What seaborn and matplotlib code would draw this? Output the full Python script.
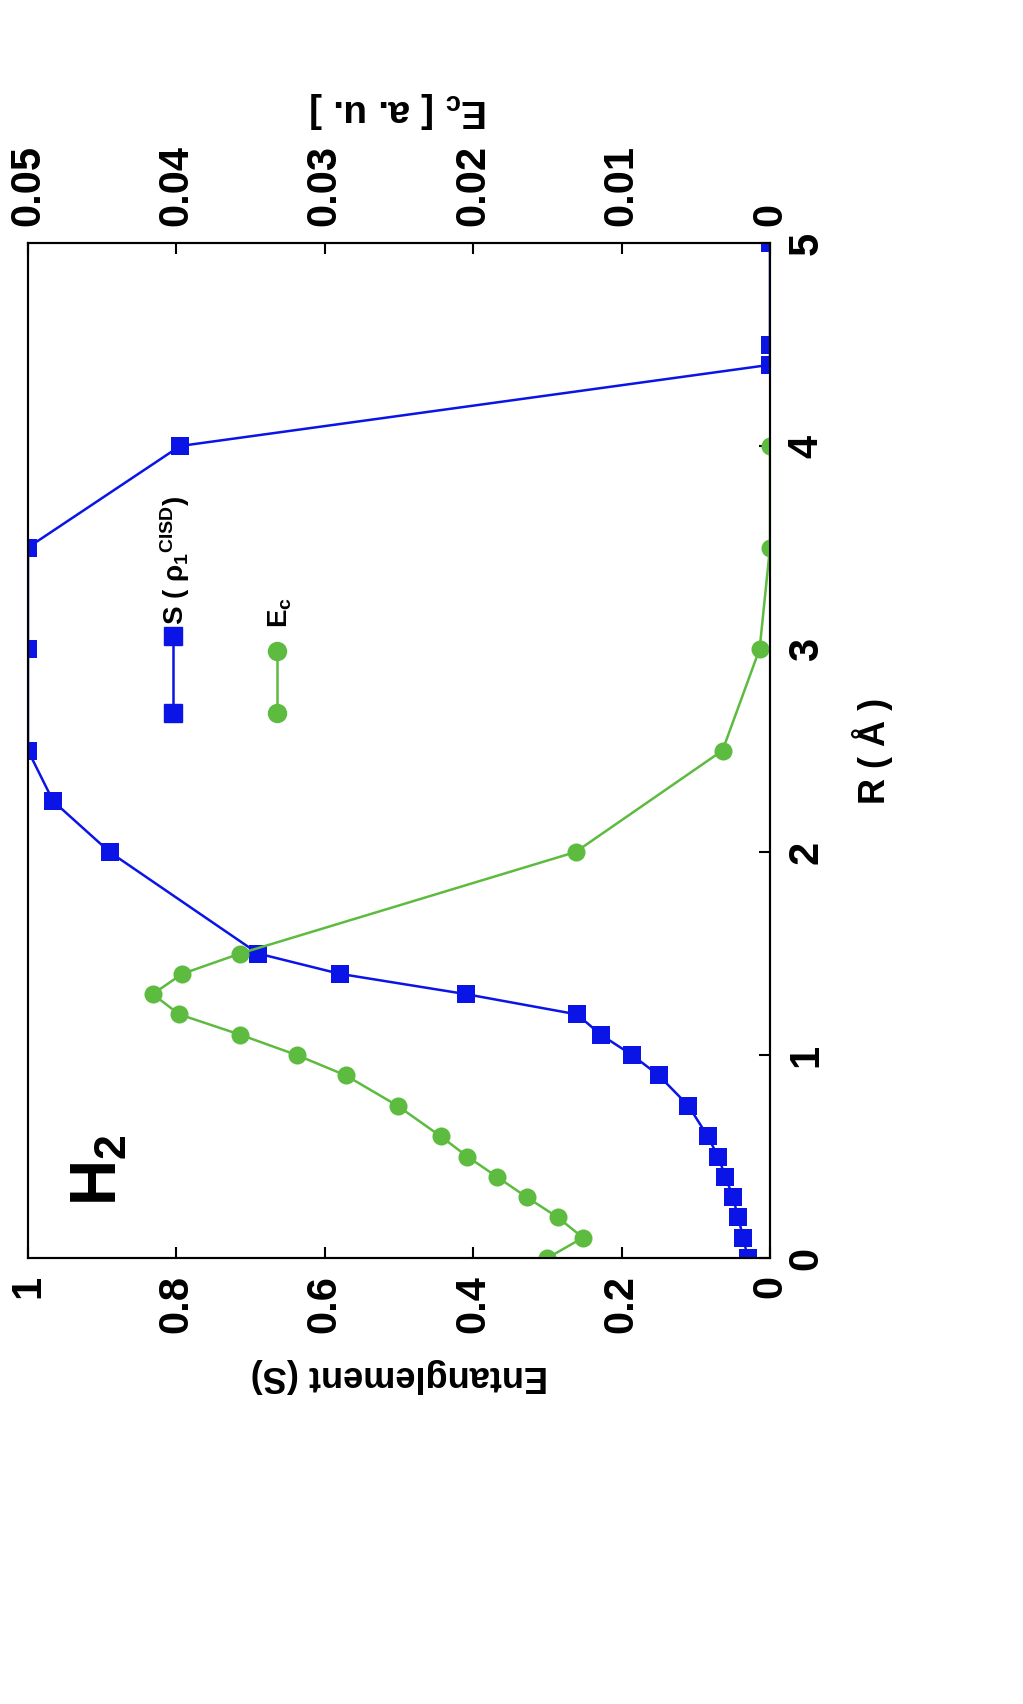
import matplotlib
matplotlib.use("Agg")
import matplotlib.pyplot as plt
import seaborn as sns

sns.set_style("ticks")
plt.rcParams['font.family'] = ['Liberation Sans', 'DejaVu Sans']
plt.rcParams['font.weight'] = 'bold'
plt.rcParams['text.color'] = 'black'
plt.rcParams['axes.labelcolor'] = 'black'
plt.rcParams['xtick.color'] = 'black'
plt.rcParams['ytick.color'] = 'black'
plt.rcParams['axes.edgecolor'] = 'black'
plt.rcParams['mathtext.fontset'] = 'custom'
plt.rcParams['mathtext.rm'] = 'Liberation Sans:bold'
plt.rcParams['mathtext.bf'] = 'Liberation Sans:bold'
plt.rcParams['mathtext.it'] = 'Liberation Sans:bold'
plt.rcParams['mathtext.default'] = 'regular'

# Entanglement S(rho1 CISD) vs R
r_s = [0, 0.1, 0.2, 0.3, 0.4, 0.5, 0.6, 0.75, 0.9, 1.0, 1.1, 1.2, 1.3, 1.4, 1.5,
       2.0, 2.25, 2.5, 3.0, 3.5, 4.0, 4.4, 4.5, 5.0]
s_vals = [0.03, 0.036, 0.043, 0.05, 0.06, 0.07, 0.084, 0.11, 0.15, 0.186, 0.228,
          0.26, 0.41, 0.58, 0.69, 0.89, 0.966, 1.0, 1.0, 1.0, 0.795, 0.0, 0.0, 0.0]
# Correlation energy E_c vs R
r_e = [0, 0.1, 0.2, 0.3, 0.4, 0.5, 0.6, 0.75, 0.9, 1.0, 1.1, 1.2, 1.3, 1.4, 1.5,
       2.0, 2.5, 3.0, 3.5, 4.0]
e_vals = [0.0150, 0.0126, 0.0143, 0.0164, 0.0184, 0.0204, 0.0222, 0.0251, 0.0286,
          0.0319, 0.0357, 0.0398, 0.0416, 0.0396, 0.0357, 0.0131, 0.0032, 0.0007,
          0.0, 0.0]

blue = '#0b14e6'
green = '#5dbb3f'

fig = plt.figure(figsize=(10.23, 17.04), dpi=100)
W, H = 1023, 1704
ax = fig.add_axes([28 / W, 1 - 1258 / H, (770 - 28) / W, (1258 - 243) / H])
ax2 = ax.twiny()

sns.lineplot(x=s_vals, y=r_s, ax=ax, color=blue, marker='s', markersize=13,
             markeredgewidth=0, lw=1.8, sort=False, estimator=None)
sns.lineplot(x=e_vals, y=r_e, ax=ax2, color=green, marker='o', markersize=13,
             markeredgewidth=0, lw=1.8, sort=False, estimator=None)

ax.set_xlim(1, 0)
ax2.set_xlim(0.05, 0)
ax.set_ylim(0, 5)
ax.yaxis.tick_right()
ax.yaxis.set_label_position('right')

fs = 30
ax.set_xticks([0, 0.2, 0.4, 0.6, 0.8, 1])
ax.set_xticklabels(['0', '0.2', '0.4', '0.6', '0.8', '1'], rotation=90, fontsize=fs, fontweight='bold')
ax2.set_xticks([0, 0.01, 0.02, 0.03, 0.04, 0.05])
ax2.set_xticklabels(['0', '0.01', '0.02', '0.03', '0.04', '0.05'], rotation=90, fontsize=fs, fontweight='bold')
ax.set_yticks([0, 1, 2, 3, 4, 5])
ax.set_yticklabels(['0', '1', '2', '3', '4', '5'], rotation=90, va='center', fontsize=fs, fontweight='bold')
for a in (ax, ax2):
    a.tick_params(direction='in', length=8, width=1.5, pad=12)
    for sp in a.spines.values():
        sp.set_linewidth(1.5)
        sp.set_visible(True)

ax.set_xlabel('Entanglement (S)', rotation=180, fontsize=26, fontweight='bold', labelpad=18)
ax2.set_xlabel(r'E$_c$ [ a. u. ]', rotation=180, fontsize=28, fontweight='bold', labelpad=18)
ax.set_ylabel('R ( Å )', rotation=90, fontsize=26, fontweight='bold', labelpad=18)

# legend (rotated, drawn manually)
T = ax.transAxes
ax.plot([(173 - 28) / 742] * 2, [(1258 - 713) / 1015, (1258 - 636) / 1015], transform=T,
        color=blue, marker='s', markersize=13, lw=1.8)
ax.plot([(277 - 28) / 742] * 2, [(1258 - 713) / 1015, (1258 - 651) / 1015], transform=T,
        color=green, marker='o', markersize=13, lw=1.8)
ax.text((175 - 28) / 742, (1258 - 560) / 1015, r'S ( $\rho_1$$^{CISD}$)', transform=T,
        rotation=90, ha='center', va='center', fontsize=20, fontweight='bold')
ax.text((280 - 28) / 742, (1258 - 612) / 1015, r'E$_c$', transform=T,
        rotation=90, ha='center', va='center', fontsize=20, fontweight='bold')
ax.text((100 - 28) / 742, (1258 - 1170) / 1015, r'H$_2$', transform=T,
        rotation=90, ha='center', va='center', fontsize=46, fontweight='bold')

fig.savefig('out.png', dpi=100)
